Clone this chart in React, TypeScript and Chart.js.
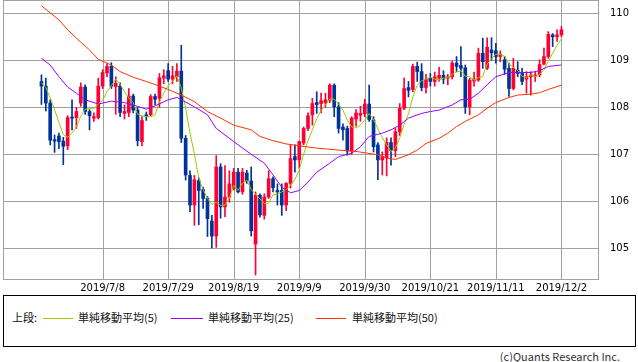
import React, { useEffect, useRef } from "react";
import { Chart, registerables } from "chart.js";
Chart.register(...registerables);

const opens = [
  108.55, 108.45, 108.09, 107.31, 107.39, 107.28, 107.18, 107.79, 107.78, 108.09,
  108.43, 107.91, 107.77, 107.78, 108.45, 108.73, 108.87, 108.44, 108.45, 107.87,
  107.89, 108.24, 107.94, 107.27, 107.84, 107.84, 108.23, 108.19, 108.62, 108.78,
  108.60, 108.65, 108.77, 107.34, 106.55, 105.92, 106.44, 106.25, 106.06, 105.58,
  105.26, 106.73, 105.88, 106.09, 106.27, 106.62, 106.20, 106.60, 106.43, 105.09,
  106.13, 105.70, 106.09, 106.48, 106.23, 106.23, 105.92, 106.38, 106.95, 106.88,
  107.24, 107.55, 107.84, 108.10, 108.08, 108.10, 108.15, 108.47, 108.01, 107.58,
  107.55, 107.07, 107.75, 107.83, 107.86, 108.07, 107.73, 107.20, 106.88, 106.92,
  107.25, 107.08, 107.48, 107.98, 108.42, 108.38, 108.87, 108.76, 108.42, 108.62,
  108.55, 108.62, 108.68, 108.62, 108.65, 108.94, 108.89, 108.84, 108.01, 108.56,
  108.58, 109.15, 108.83, 109.22, 109.20, 109.08, 109.01, 108.83, 108.40, 108.79,
  108.72, 108.60, 108.65, 108.66, 108.69, 108.92, 109.08, 109.54, 109.50, 109.54,
];
const highs = [
  108.69, 108.62, 108.16, 107.41, 107.45, 107.36, 107.82, 108.16, 108.00, 108.52,
  108.48, 107.95, 107.88, 108.62, 108.80, 108.93, 108.95, 108.65, 108.52, 108.05,
  108.40, 108.28, 108.00, 107.80, 107.90, 108.27, 108.28, 108.72, 108.80, 108.93,
  108.87, 108.93, 109.32, 107.40, 106.65, 106.55, 106.50, 106.30, 106.10, 105.70,
  106.97, 106.80, 106.76, 106.65, 106.70, 106.70, 106.70, 106.66, 106.73, 106.20,
  106.16, 106.16, 106.65, 106.52, 106.37, 106.37, 106.40, 107.20, 107.20, 107.28,
  107.58, 107.88, 108.19, 108.33, 108.30, 108.30, 108.50, 108.50, 108.10, 107.65,
  107.60, 107.80, 107.95, 108.02, 108.17, 108.47, 107.80, 107.25, 107.05, 107.35,
  107.35, 107.55, 108.08, 108.62, 108.55, 108.92, 108.96, 108.93, 108.70, 108.72,
  108.75, 108.85, 108.78, 108.70, 108.98, 109.08, 109.29, 108.90, 108.62, 108.75,
  109.26, 109.47, 109.48, 109.48, 109.36, 109.20, 109.08, 108.94, 109.04, 108.97,
  108.83, 108.76, 108.76, 108.76, 109.01, 109.26, 109.61, 109.57, 109.65, 109.72,
];
const lows = [
  108.06, 107.92, 107.20, 107.04, 107.12, 106.78, 107.10, 107.52, 107.55, 108.02,
  107.85, 107.52, 107.70, 107.75, 108.40, 108.65, 108.40, 107.85, 107.80, 107.75,
  107.80, 107.88, 107.18, 107.18, 107.72, 107.82, 108.05, 108.00, 108.50, 108.55,
  108.50, 108.55, 107.25, 106.45, 105.78, 105.49, 105.50, 105.85, 105.25, 105.01,
  105.02, 105.64, 105.67, 105.98, 106.24, 106.18, 106.15, 106.38, 105.26, 104.43,
  105.66, 105.62, 106.06, 106.20, 105.92, 105.70, 105.80, 106.28, 106.62, 106.70,
  107.20, 107.50, 107.62, 107.87, 107.88, 108.00, 108.10, 107.80, 107.45, 107.30,
  106.98, 107.00, 107.60, 107.70, 107.80, 107.70, 107.05, 106.46, 106.56, 106.54,
  106.77, 106.95, 107.40, 107.95, 108.22, 108.33, 108.55, 108.35, 108.30, 108.45,
  108.45, 108.55, 108.50, 108.48, 108.60, 108.76, 108.65, 107.87, 107.84, 108.45,
  108.55, 108.83, 108.80, 109.00, 108.94, 108.97, 108.70, 108.23, 108.37, 108.65,
  108.48, 108.30, 108.26, 108.55, 108.65, 108.90, 109.04, 109.29, 109.40, 109.50,
];
const closes = [
  108.45, 108.09, 107.30, 107.28, 107.27, 107.17, 107.78, 107.77, 107.91, 108.43,
  107.91, 107.82, 107.80, 108.45, 108.74, 108.87, 108.45, 108.51, 107.89, 107.91,
  108.24, 107.94, 107.29, 107.72, 107.80, 108.23, 108.17, 108.63, 108.67, 108.60,
  108.67, 108.77, 107.34, 106.56, 105.92, 106.46, 106.23, 106.06, 105.63, 105.26,
  106.73, 105.88, 106.09, 106.37, 106.62, 106.20, 106.62, 106.43, 105.37, 106.13,
  105.71, 106.09, 106.48, 106.29, 106.20, 105.92, 106.38, 106.91, 106.88, 107.27,
  107.55, 107.82, 108.08, 108.06, 108.14, 108.16, 108.47, 108.01, 107.55, 107.52,
  107.07, 107.77, 107.88, 107.87, 108.07, 107.74, 107.16, 106.88, 106.95, 107.25,
  107.08, 107.48, 107.98, 108.40, 108.36, 108.87, 108.76, 108.42, 108.60, 108.55,
  108.65, 108.68, 108.60, 108.65, 108.94, 108.87, 108.83, 108.01, 108.58, 108.60,
  109.15, 108.97, 109.28, 109.16, 109.08, 109.13, 108.81, 108.40, 108.83, 108.72,
  108.55, 108.65, 108.69, 108.69, 108.91, 109.08, 109.55, 109.50, 109.54, 109.65,
];
const ma5 = [
  108.52, 108.42, 108.20, 107.95, 107.68, 107.42, 107.36, 107.45, 107.58, 107.81,
  107.96, 107.97, 107.97, 108.08, 108.14, 108.34, 108.46, 108.60, 108.49, 108.33,
  108.20, 108.10, 107.85, 107.82, 107.80, 107.80, 107.84, 108.11, 108.30, 108.46,
  108.55, 108.67, 108.41, 107.99, 107.45, 107.01, 106.50, 106.25, 106.06, 105.93,
  105.98, 105.91, 105.92, 106.07, 106.34, 106.23, 106.38, 106.45, 106.25, 106.15,
  106.05, 105.95, 105.96, 106.14, 106.15, 106.20, 106.25, 106.34, 106.46, 106.67,
  107.00, 107.29, 107.52, 107.76, 107.93, 108.05, 108.18, 108.17, 108.07, 107.94,
  107.72, 107.58, 107.56, 107.62, 107.73, 107.87, 107.74, 107.54, 107.36, 107.20,
  107.06, 107.13, 107.35, 107.64, 107.86, 108.22, 108.47, 108.56, 108.60, 108.64,
  108.60, 108.58, 108.62, 108.63, 108.70, 108.75, 108.78, 108.66, 108.65, 108.58,
  108.63, 108.66, 108.92, 109.03, 109.13, 109.12, 109.09, 108.92, 108.85, 108.78,
  108.66, 108.63, 108.69, 108.66, 108.70, 108.80, 108.98, 109.15, 109.32, 109.46,
];
const ma25Idx = [0, 2, 4, 6, 8, 10, 13, 16, 19, 21, 24, 26, 29, 31, 32, 35, 38, 40, 44, 48, 51, 53, 55, 57, 59, 61, 63, 66, 68, 71, 73, 75, 78, 80, 82, 84, 87, 89, 91, 94, 96, 98, 100, 102, 104, 107, 109, 112, 114, 116, 119];
const ma25Val = [109.04, 108.9, 108.65, 108.43, 108.3, 108.16, 108.07, 108.13, 108.1, 108.05, 107.96, 108.03, 108.16, 108.21, 108.16, 108.01, 107.84, 107.55, 107.27, 107.0, 106.81, 106.56, 106.3, 106.18, 106.23, 106.41, 106.62, 106.81, 106.95, 107.02, 107.16, 107.38, 107.45, 107.52, 107.62, 107.77, 107.87, 107.91, 107.94, 108.05, 108.16, 108.17, 108.3, 108.48, 108.65, 108.74, 108.74, 108.74, 108.78, 108.87, 108.9];
const ma50Idx = [0, 2, 4, 6, 8, 11, 13, 16, 18, 21, 24, 27, 29, 32, 35, 38, 41, 44, 48, 50, 53, 56, 59, 63, 68, 72, 77, 79, 81, 84, 86, 88, 91, 93, 95, 97, 100, 102, 104, 107, 109, 112, 114, 116, 119];
const ma50Val = [110.16, 110.01, 109.86, 109.65, 109.47, 109.22, 109.02, 108.9, 108.76, 108.64, 108.55, 108.45, 108.38, 108.26, 108.12, 107.91, 107.77, 107.62, 107.52, 107.38, 107.29, 107.22, 107.18, 107.13, 107.09, 107.06, 106.99, 106.92, 106.89, 106.99, 107.09, 107.23, 107.34, 107.45, 107.59, 107.7, 107.84, 107.98, 108.1, 108.21, 108.26, 108.28, 108.31, 108.38, 108.47];
const xTickIdx = [14, 29, 44, 59, 74, 89, 104, 119];
const xTickLabels = ["2019/7/8", "2019/7/29", "2019/8/19", "2019/9/9", "2019/9/30", "2019/10/21", "2019/11/11", "2019/12/2"];
const yTicks = [105, 106, 107, 108, 109, 110];

const UP = "#FF0033";
const DOWN = "#003399";
const GRID = "#A0A0A0";
const LABEL_FONT = "10px 'DejaVu Sans'";

const framePlugin = {
  id: "frame",
  beforeDatasetsDraw(chart: any) {
    const { ctx, chartArea, scales } = chart;
    ctx.save();
    ctx.strokeStyle = GRID;
    ctx.lineWidth = 1;
    ctx.beginPath();
    xTickIdx.forEach((v) => {
      const px = Math.round(scales.x.getPixelForValue(v)) + 0.5;
      ctx.moveTo(px, chartArea.top);
      ctx.lineTo(px, chartArea.bottom);
    });
    ctx.stroke();
    ctx.strokeRect(
      Math.round(chartArea.left) + 0.5,
      Math.round(chartArea.top) + 0.5,
      Math.round(chartArea.right - chartArea.left) - 1,
      Math.round(chartArea.bottom - chartArea.top) - 1
    );
    ctx.restore();
  },
  afterDraw(chart: any) {
    const { ctx, chartArea, scales } = chart;
    ctx.save();
    ctx.fillStyle = "#000";
    ctx.font = LABEL_FONT;
    ctx.textBaseline = "middle";
    ctx.textAlign = "left";
    yTicks.forEach((v) => {
      ctx.fillText(String(v), chartArea.right + 11, scales.y.getPixelForValue(v) + 0.5);
    });
    ctx.textAlign = "center";
    xTickIdx.forEach((v, i) => {
      ctx.fillText(xTickLabels[i], scales.x.getPixelForValue(v), chartArea.bottom + 8);
    });
    ctx.restore();
  },
};

export default function App() {
  const ref = useRef<HTMLCanvasElement | null>(null);
  useEffect(() => {
    if (!ref.current) return;
    const colors = closes.map((c, i) => (c >= opens[i] ? UP : DOWN));
    const chart = new Chart(ref.current, {
      type: "bar",
      data: {
        datasets: [
          {
            type: "line",
            data: ma50Idx.map((x, i) => ({ x, y: ma50Val[i] })),
            borderColor: "#FF3300",
            borderWidth: 1,
            pointRadius: 0,
            fill: false,
            order: 0,
          } as any,
          {
            type: "line",
            data: ma25Idx.map((x, i) => ({ x, y: ma25Val[i] })),
            borderColor: "#9900FF",
            borderWidth: 1,
            pointRadius: 0,
            fill: false,
            order: 0,
          } as any,
          {
            type: "line",
            data: ma5.map((y, x) => ({ x, y })),
            borderColor: "#99CC00",
            borderWidth: 1,
            pointRadius: 0,
            fill: false,
            order: 0,
          } as any,
          {
            type: "bar",
            data: closes.map((c, i) => ({ x: i, y: [lows[i], highs[i]] })),
            backgroundColor: colors,
            barThickness: 1,
            grouped: false,
            order: 2,
          } as any,
          {
            type: "bar",
            data: closes.map((c, i) => ({ x: i, y: [opens[i], c] })),
            backgroundColor: colors,
            barThickness: 3,
            minBarLength: 1,
            grouped: false,
            order: 1,
          } as any,
        ],
      },
      options: {
        responsive: false,
        animation: false,
        devicePixelRatio: 1,
        layout: { padding: { left: 3, top: 0, right: 0, bottom: 0 } },
        plugins: { legend: { display: false }, tooltip: { enabled: false } },
        scales: {
          x: {
            type: "linear",
            offset: false,
            min: -8.8,
            max: 127.6,
            afterBuildTicks: (s: any) => {
              s.ticks = xTickIdx.map((v) => ({ value: v }));
            },
            afterFit: (s: any) => {
              s.height = 15;
              s.paddingLeft = 0;
              s.paddingRight = 0;
            },
            ticks: { display: false },
            grid: { display: false },
            border: { display: false },
          },
          y: {
            type: "linear",
            position: "right",
            min: 104.325,
            max: 110.283,
            afterBuildTicks: (s: any) => {
              s.ticks = yTicks.map((v) => ({ value: v }));
            },
            afterFit: (s: any) => {
              s.width = 39;
              s.paddingTop = 0;
              s.paddingBottom = 0;
            },
            ticks: { display: false },
            grid: { color: GRID, drawTicks: false },
            border: { display: false },
          },
        },
      } as any,
      plugins: [framePlugin],
    });
    return () => chart.destroy();
  }, []);

  const txt: React.CSSProperties = {
    position: "absolute",
    top: 310,
    fontFamily: "'Noto Sans CJK JP', sans-serif",
    fontSize: 11,
    lineHeight: "14px",
    color: "#111",
    whiteSpace: "nowrap",
  };
  const line = (left: number, width: number, color: string): React.CSSProperties => ({
    position: "absolute",
    left,
    top: 318,
    width,
    height: 1,
    background: color,
  });

  return (
    <div style={{ position: "absolute", left: 0, top: 0, width: 638, height: 362, background: "#fff", overflow: "hidden" }}>
      <canvas ref={ref} width={638} height={295} style={{ position: "absolute", left: 0, top: 0, width: 638, height: 295 }} />
      <div style={{ position: "absolute", left: 3, top: 295, width: 633, height: 52, border: "1px solid #000", boxSizing: "border-box" }} />
      <div style={{ ...txt, left: 12 }}>上段:</div>
      <div style={line(43, 30, "#99CC00")} />
      <div style={{ ...txt, left: 78 }}>単純移動平均(5)</div>
      <div style={line(171, 32, "#9900FF")} />
      <div style={{ ...txt, left: 208 }}>単純移動平均(25)</div>
      <div style={line(316, 30, "#FF3300")} />
      <div style={{ ...txt, left: 352 }}>単純移動平均(50)</div>
      <div style={{ ...txt, top: 349, left: "auto", right: 18, color: "#333" }}>(c)Quants Research Inc.</div>
    </div>
  );
}
